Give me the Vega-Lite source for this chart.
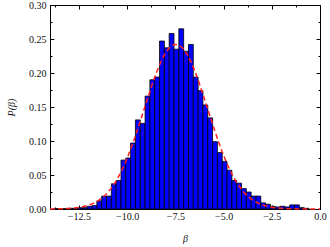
{
  "$schema": "https://vega.github.io/schema/vega-lite/v6.json",
  "width": 270,
  "height": 204,
  "autosize": {"type": "none"},
  "padding": {"left": 50, "top": 5, "right": 10, "bottom": 38},
  "background": "white",
  "config": {
    "view": {"stroke": "black", "strokeWidth": 1},
    "axis": {
      "grid": false,
      "domainColor": "black",
      "domainWidth": 1,
      "tickColor": "black",
      "tickWidth": 1,
      "labelFont": "Liberation Serif",
      "labelFontSize": 10,
      "labelColor": "#111111",
      "titleFont": "Liberation Serif",
      "titleFontStyle": "italic",
      "titleFontWeight": "normal",
      "titleFontSize": 10,
      "titleColor": "#111111"
    }
  },
  "layer": [
    {
      "data": {"values": [
        {"lo": -13.82, "hi": -13.57, "p": 0.0005},
        {"lo": -13.57, "hi": -13.32, "p": 0.0},
        {"lo": -13.32, "hi": -13.07, "p": 0.0005},
        {"lo": -13.07, "hi": -12.82, "p": 0.001},
        {"lo": -12.82, "hi": -12.57, "p": 0.001},
        {"lo": -12.57, "hi": -12.32, "p": 0.002},
        {"lo": -12.32, "hi": -12.07, "p": 0.002},
        {"lo": -12.07, "hi": -11.82, "p": 0.004},
        {"lo": -11.82, "hi": -11.57, "p": 0.005},
        {"lo": -11.57, "hi": -11.32, "p": 0.012},
        {"lo": -11.32, "hi": -11.07, "p": 0.019},
        {"lo": -11.07, "hi": -10.82, "p": 0.019},
        {"lo": -10.82, "hi": -10.57, "p": 0.037},
        {"lo": -10.57, "hi": -10.32, "p": 0.042},
        {"lo": -10.32, "hi": -10.07, "p": 0.072},
        {"lo": -10.07, "hi": -9.82, "p": 0.075},
        {"lo": -9.82, "hi": -9.57, "p": 0.097},
        {"lo": -9.57, "hi": -9.32, "p": 0.131},
        {"lo": -9.32, "hi": -9.07, "p": 0.126},
        {"lo": -9.07, "hi": -8.82, "p": 0.166},
        {"lo": -8.82, "hi": -8.57, "p": 0.19},
        {"lo": -8.57, "hi": -8.32, "p": 0.194},
        {"lo": -8.32, "hi": -8.07, "p": 0.247},
        {"lo": -8.07, "hi": -7.82, "p": 0.237},
        {"lo": -7.82, "hi": -7.57, "p": 0.258},
        {"lo": -7.57, "hi": -7.32, "p": 0.235},
        {"lo": -7.32, "hi": -7.07, "p": 0.265},
        {"lo": -7.07, "hi": -6.82, "p": 0.232},
        {"lo": -6.82, "hi": -6.57, "p": 0.242},
        {"lo": -6.57, "hi": -6.32, "p": 0.194},
        {"lo": -6.32, "hi": -6.07, "p": 0.174},
        {"lo": -6.07, "hi": -5.82, "p": 0.153},
        {"lo": -5.82, "hi": -5.57, "p": 0.134},
        {"lo": -5.57, "hi": -5.32, "p": 0.099},
        {"lo": -5.32, "hi": -5.07, "p": 0.083},
        {"lo": -5.07, "hi": -4.82, "p": 0.07},
        {"lo": -4.82, "hi": -4.57, "p": 0.057},
        {"lo": -4.57, "hi": -4.32, "p": 0.042},
        {"lo": -4.32, "hi": -4.07, "p": 0.038},
        {"lo": -4.07, "hi": -3.82, "p": 0.03},
        {"lo": -3.82, "hi": -3.57, "p": 0.025},
        {"lo": -3.57, "hi": -3.32, "p": 0.019},
        {"lo": -3.32, "hi": -3.07, "p": 0.019},
        {"lo": -3.07, "hi": -2.82, "p": 0.009},
        {"lo": -2.82, "hi": -2.57, "p": 0.007},
        {"lo": -2.57, "hi": -2.32, "p": 0.004},
        {"lo": -2.32, "hi": -2.07, "p": 0.003},
        {"lo": -2.07, "hi": -1.82, "p": 0.004},
        {"lo": -1.82, "hi": -1.57, "p": 0.003},
        {"lo": -1.57, "hi": -1.32, "p": 0.006},
        {"lo": -1.32, "hi": -1.07, "p": 0.006},
        {"lo": -1.07, "hi": -0.82, "p": 0.002},
        {"lo": -0.82, "hi": -0.57, "p": 0.001}
      ]},
      "mark": {"type": "bar", "fill": "#0000ff", "stroke": "#000000", "strokeWidth": 0.8},
      "encoding": {
        "x": {
          "field": "lo", "type": "quantitative",
          "scale": {"domain": [-14, 0], "nice": false, "zero": false},
          "axis": {
            "orient": "bottom",
            "title": "β",
            "values": [-13.75, -12.5, -11.25, -10, -8.75, -7.5, -6.25, -5, -3.75, -2.5, -1.25, 0],
            "labelExpr": "abs(datum.value/2.5 - round(datum.value/2.5)) < 0.001 ? format(datum.value, '.1f') : ''",
            "tickSize": {"condition": {"test": "abs(datum.value/2.5 - round(datum.value/2.5)) < 0.001", "value": -4}, "value": -2},
            "labelFlush": false,
            "labelPadding": 6,
            "titlePadding": 12
          }
        },
        "x2": {"field": "hi"},
        "y": {
          "field": "p", "type": "quantitative",
          "scale": {"domain": [0, 0.3], "nice": false},
          "axis": {
            "orient": "left",
            "title": "P(β)",
            "values": [0, 0.025, 0.05, 0.075, 0.1, 0.125, 0.15, 0.175, 0.2, 0.225, 0.25, 0.275, 0.3],
            "labelExpr": "abs(datum.value*20 - round(datum.value*20)) < 0.001 ? format(datum.value, '.2f') : ''",
            "tickSize": {"condition": {"test": "abs(datum.value*20 - round(datum.value*20)) < 0.001", "value": -4}, "value": -2},
            "labelPadding": 8,
            "titlePadding": 12
          }
        },
        "y2": {"datum": 0}
      }
    },
    {
      "data": {"values": [
        {"beta": -14, "fit": 0.0001},
        {"beta": -13.5, "fit": 0.0003},
        {"beta": -13, "fit": 0.0009},
        {"beta": -12.5, "fit": 0.0023},
        {"beta": -12, "fit": 0.0056},
        {"beta": -11.5, "fit": 0.0123},
        {"beta": -11, "fit": 0.0245},
        {"beta": -10.5, "fit": 0.0448},
        {"beta": -10, "fit": 0.0747},
        {"beta": -9.5, "fit": 0.1135},
        {"beta": -9, "fit": 0.1574},
        {"beta": -8.5, "fit": 0.1992},
        {"beta": -8, "fit": 0.2298},
        {"beta": -7.5, "fit": 0.242},
        {"beta": -7, "fit": 0.2324},
        {"beta": -6.5, "fit": 0.2036},
        {"beta": -6, "fit": 0.1627},
        {"beta": -5.5, "fit": 0.1187},
        {"beta": -5, "fit": 0.0789},
        {"beta": -4.5, "fit": 0.0479},
        {"beta": -4, "fit": 0.0265},
        {"beta": -3.5, "fit": 0.0134},
        {"beta": -3, "fit": 0.0062},
        {"beta": -2.5, "fit": 0.0026},
        {"beta": -2, "fit": 0.001},
        {"beta": -1.5, "fit": 0.0003},
        {"beta": -1, "fit": 0.0001},
        {"beta": -0.5, "fit": 0.0},
        {"beta": 0, "fit": 0.0}
      ]},
      "mark": {"type": "line", "color": "#ff2020", "strokeDash": [5, 3], "strokeWidth": 1.5, "interpolate": "monotone"},
      "encoding": {
        "x": {
          "field": "beta", "type": "quantitative",
          "axis": {
            "orient": "top",
            "title": null,
            "labels": false,
            "values": [-13.75, -12.5, -11.25, -10, -8.75, -7.5, -6.25, -5, -3.75, -2.5, -1.25, 0],
            "tickSize": {"condition": {"test": "abs(datum.value/2.5 - round(datum.value/2.5)) < 0.001", "value": -4}, "value": -2}
          }
        },
        "y": {
          "field": "fit", "type": "quantitative",
          "axis": {
            "orient": "right",
            "title": null,
            "labels": false,
            "values": [0, 0.025, 0.05, 0.075, 0.1, 0.125, 0.15, 0.175, 0.2, 0.225, 0.25, 0.275, 0.3],
            "tickSize": {"condition": {"test": "abs(datum.value*20 - round(datum.value*20)) < 0.001", "value": -4}, "value": -2}
          }
        }
      }
    }
  ],
  "resolve": {"axis": {"x": "independent", "y": "independent"}}
}
